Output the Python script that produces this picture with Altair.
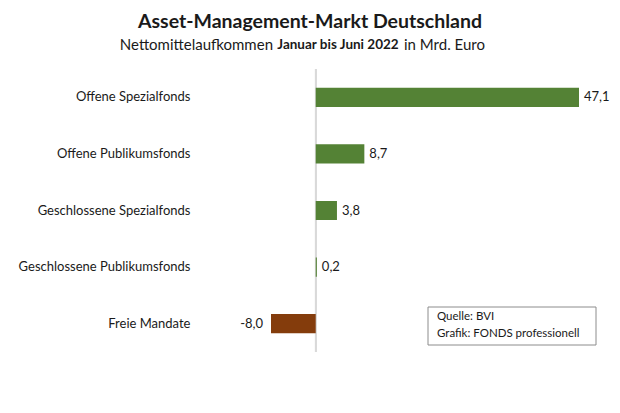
import altair as alt
import pandas as pd

categories = ["Offene Spezialfonds", "Offene Publikumsfonds", "Geschlossene Spezialfonds",
              "Geschlossene Publikumsfonds", "Freie Mandate"]
values = [47.1, 8.7, 3.8, 0.2, -8.0]
labels = [f"{v:.1f}".replace(".", ",") for v in values]
title_text = "Asset-Management-Markt Deutschland"
subtitle_parts = ["Nettomittelaufkommen", "Januar bis Juni 2022", "in Mrd. Euro"]
source_lines = ["Quelle: BVI", "Grafik: FONDS professionell"]

FONT = "Lato"
INK = "#1a1a1a"
df = pd.DataFrame({"cat": categories, "val": values, "lab": labels})

Y_AXIS = alt.Axis(domain=False, ticks=False, labelPadding=81, labelFontSize=13,
                  labelFont=FONT, labelColor=INK, labelLimit=300, grid=False)
Y_SCALE = alt.Scale(paddingInner=0.66, paddingOuter=0.33)
X_SCALE = alt.Scale(domain=[-8, 47.1], nice=False)


def yenc():
    return alt.Y("cat:N", sort=None, title=None, scale=Y_SCALE, axis=Y_AXIS)


def xenc(field="val"):
    return alt.X(f"{field}:Q", title=None, scale=X_SCALE, axis=None)


base = alt.Chart(df)

bars = base.mark_bar().encode(
    x=xenc(), y=yenc(),
    color=alt.condition("datum.val >= 0", alt.value("#548235"), alt.value("#843C0C")),
)

pos_text = base.mark_text(align="left", dx=5, font=FONT, fontSize=13, color=INK).encode(
    x=xenc(), y=yenc(),
    text=alt.condition("datum.val >= 0", "lab:N", alt.value("")))
neg_text = base.mark_text(align="right", dx=-8, font=FONT, fontSize=13, color=INK).encode(
    x=xenc(), y=yenc(),
    text=alt.condition("datum.val < 0", "lab:N", alt.value("")))

zero = base.transform_calculate(z="0").mark_rule(color="#d9d9d9", strokeWidth=1.5).encode(
    x=xenc("z"))


def label(text, xpos, ypos, size, weight="normal", align="center"):
    return alt.Chart(pd.DataFrame({"t": [text]})).mark_text(
        align=align, baseline="middle", font=FONT, fontSize=size, fontWeight=weight,
        color=INK).encode(x=alt.value(xpos), y=alt.value(ypos), text="t:N")


# page x -> plot x : minus 271 ; page y -> plot y : minus 69
title = label(title_text, 39, -47, 19.5, "bold")
sub1 = label(subtitle_parts[0], 2, -24, 15, align="right")
sub2 = label(subtitle_parts[1], 67, -24, 13.5, "bold")
sub3 = label(subtitle_parts[2], 133, -24, 15, align="left")

box = alt.Chart(pd.DataFrame({"t": [""]})).mark_rect(
    fill="white", stroke="#8c8c8c", strokeWidth=1).encode(
    x=alt.value(157), x2=alt.value(325), y=alt.value(238), y2=alt.value(276))
src1 = label(source_lines[0], 166, 248, 11.5, align="left")
src2 = label(source_lines[1], 166, 265, 11.5, align="left")

chart = alt.layer(zero, bars, pos_text, neg_text, box, src1, src2,
                  title, sub1, sub2, sub3).properties(
    width=308, height=283,
    autosize=alt.AutoSizeParams(type="none"),
    padding={"left": 263, "top": 61, "right": 33, "bottom": 53},
).configure_view(strokeWidth=0)

chart.save("out.html", embed_options={"renderer": "svg", "actions": False})
